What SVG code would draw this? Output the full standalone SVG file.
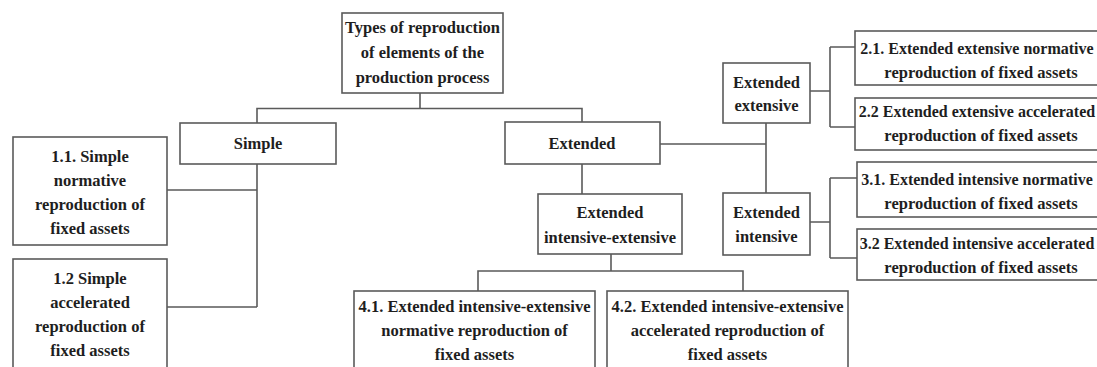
<svg xmlns="http://www.w3.org/2000/svg" width="1097" height="367" viewBox="0 0 1097 367">
<style>
.box{fill:#fff;stroke:#5a5a5a;stroke-width:1.6}
.t{font-family:"Liberation Serif","Times New Roman",serif;font-weight:bold;font-size:16.5px;fill:#1e1e1e;text-anchor:middle}
.s{font-size:16px}
.c{fill:none;stroke:#5a5a5a;stroke-width:1.6}
</style>
<rect width="1097" height="367" fill="#fff"/>
<g id="connectors">
<path class="c" d="M420,93 V108.5 M257,123 V108.5 H582 V122"/>
<path class="c" d="M257,164 V307 M167,190 H257 M167,307 H257"/>
<path class="c" d="M660,144 H766 M766,123 V193"/>
<path class="c" d="M582,164 V194"/>
<path class="c" d="M810,91 H830 M830,47 V127 M830,47 H855 M830,127 H855"/>
<path class="c" d="M810,222 H830 M830,178 V258 M830,178 H857 M830,258 H857"/>
<path class="c" d="M611,254 V271 M478,291 V271 H743 V291"/>
</g>
<g id="root">
<rect class="box" x="342" y="13" width="161" height="80"/>
<text class="t" x="422.5" y="33">Types of reproduction</text>
<text class="t" x="422.5" y="58">of elements of the</text>
<text class="t" x="422.5" y="83">production process</text>
</g>
<g id="simple">
<rect class="box" x="180" y="123" width="156" height="41"/>
<text class="t" x="258" y="149">Simple</text>
</g>
<g id="extended">
<rect class="box" x="505" y="122" width="155" height="42"/>
<text class="t" x="582" y="149">Extended</text>
</g>
<g id="n11">
<rect class="box" x="13" y="137" width="154" height="108"/>
<text class="t" x="90" y="162">1.1. Simple</text>
<text class="t" x="90" y="186">normative</text>
<text class="t" x="90" y="210">reproduction of</text>
<text class="t" x="90" y="234">fixed assets</text>
</g>
<g id="n12">
<rect class="box" x="13" y="259" width="154" height="112"/>
<text class="t" x="90" y="284">1.2 Simple</text>
<text class="t" x="90" y="308">accelerated</text>
<text class="t" x="90" y="332">reproduction of</text>
<text class="t" x="90" y="356">fixed assets</text>
</g>
<g id="ext-extensive">
<rect class="box" x="723" y="63" width="87" height="60"/>
<text class="t" x="766.5" y="88">Extended</text>
<text class="t" x="766.5" y="111">extensive</text>
</g>
<g id="ext-intensive">
<rect class="box" x="723" y="193" width="87" height="62"/>
<text class="t" x="766.5" y="218">Extended</text>
<text class="t" x="766.5" y="242">intensive</text>
</g>
<g id="ext-int-ext">
<rect class="box" x="538" y="194" width="144" height="60"/>
<text class="t" x="610" y="218">Extended</text>
<text class="t" x="610" y="243">intensive-extensive</text>
</g>
<g id="n21">
<rect class="box" x="855" y="31" width="260" height="54"/>
<text class="t s" x="977" y="54">2.1. Extended extensive normative</text>
<text class="t" x="981" y="78">reproduction of fixed assets</text>
</g>
<g id="n22">
<rect class="box" x="855" y="98" width="260" height="52"/>
<text class="t s" x="977" y="117">2.2 Extended extensive accelerated</text>
<text class="t" x="981" y="141">reproduction of fixed assets</text>
</g>
<g id="n31">
<rect class="box" x="857" y="162" width="260" height="55"/>
<text class="t s" x="977" y="185">3.1. Extended intensive normative</text>
<text class="t" x="981" y="209">reproduction of fixed assets</text>
</g>
<g id="n32">
<rect class="box" x="857" y="229" width="260" height="51"/>
<text class="t s" x="977" y="249">3.2 Extended intensive accelerated</text>
<text class="t" x="981" y="273">reproduction of fixed assets</text>
</g>
<g id="n41">
<rect class="box" x="354" y="291" width="241" height="80"/>
<text class="t" x="474.5" y="312">4.1. Extended intensive-extensive</text>
<text class="t" x="474.5" y="336">normative reproduction of</text>
<text class="t" x="474.5" y="360">fixed assets</text>
</g>
<g id="n42">
<rect class="box" x="607" y="291" width="241" height="80"/>
<text class="t" x="727.5" y="312">4.2. Extended intensive-extensive</text>
<text class="t" x="727.5" y="336">accelerated reproduction of</text>
<text class="t" x="727.5" y="360">fixed assets</text>
</g>
</svg>
